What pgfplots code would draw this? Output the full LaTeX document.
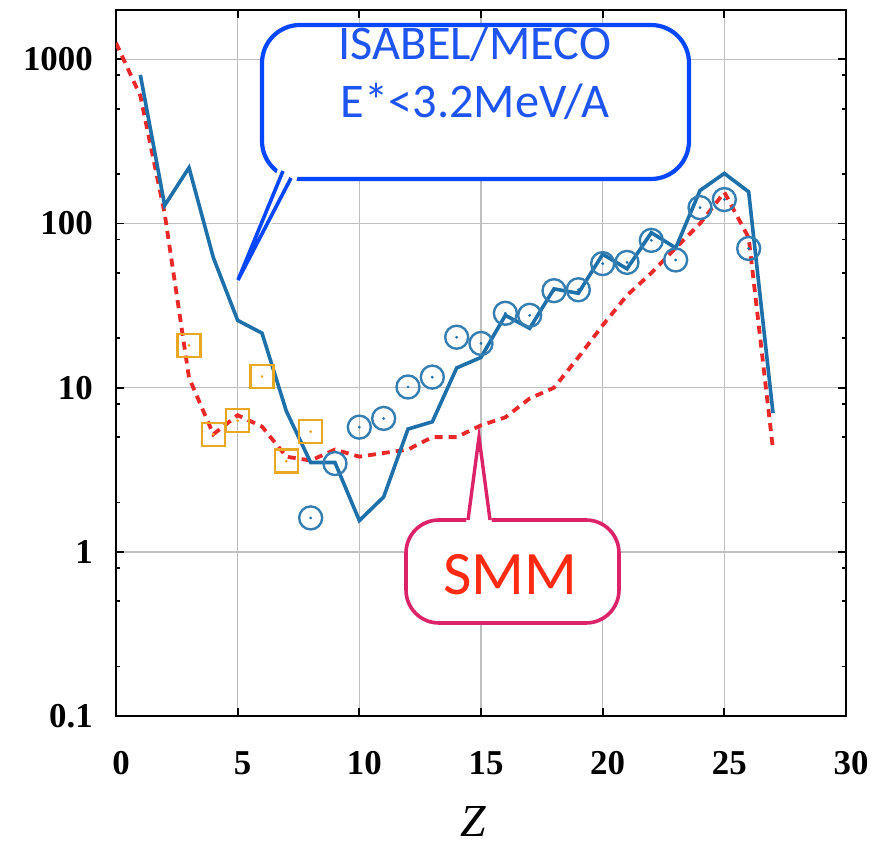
\documentclass[border=0pt]{standalone}
\usepackage{pgfplots}
\pgfplotsset{compat=1.18}
\usepackage{fontspec}
\setmainfont{Liberation Serif}
\newfontfamily\calib{Carlito}

\definecolor{isaline}{RGB}{30,112,170}
\definecolor{expcol}{RGB}{233,168,35}
\definecolor{smmline}{RGB}{235,40,40}
\definecolor{isabox}{RGB}{5,70,255}
\definecolor{isatext}{RGB}{30,85,240}
\definecolor{smmbox}{RGB}{220,35,105}
\definecolor{smmtext}{RGB}{255,42,18}

\begin{document}
\begin{tikzpicture}[x=1bp,y=1bp]
\begin{axis}[
  at={(116bp,132bp)}, anchor=south west,
  scale only axis, width=730bp, height=706bp,
  xmin=0, xmax=30, ymin=0.1, ymax=2000, ymode=log,
  xtick={0,5,10,15,20,25,30},
  xticklabels={0,5,10,15,20,25,30},
  ytick={0.1,1,10,100,1000},
  yticklabels={0.1,1,10,100,1000},
  minor ytick={0.2,0.5,0.8,2,5,8,20,50,80,200,500,800},
  minor xtick={},
  tick align=inside,
  major tick length=8bp, minor tick length=4bp,
  tick style={black, line width=1.8bp},
  axis line style={black, line width=2.2bp},
  grid=major,
  major grid style={black!25, line width=1.5bp},
  ticklabel style={font=\bfseries\fontsize{35}{35}\selectfont, inner sep=0pt},
  yticklabel style={anchor=east, xshift=-23bp},
  xticklabel style={anchor=north, yshift=-35bp, xshift=5bp},
  xlabel={\itshape Z},
  xlabel style={at={(axis description cs:0.489,0)}, anchor=base,
    inner sep=0pt, yshift=-120bp, font=\fontsize{46}{46}\selectfont},
]
% SMM calculation
\addplot[smmline, line width=3.8bp, dash pattern=on 8bp off 6bp] coordinates {
 (0,1260) (1,600) (2,115) (3,11.5) (4,5.2) (5,6.8) (6,5.8) (7,3.8)
 (8,3.6) (9,4.2) (10,3.8) (11,4.0) (12,4.2) (13,5.0) (14,5.0) (15,5.9)
 (16,6.6) (17,8.6) (18,10) (19,15.3) (20,24) (21,36.5) (22,50) (23,71)
 (24,100) (25,155) (26,82) (27,4.2)};
% ISABEL/MECO calculation
\addplot[isaline, line width=3.6bp] coordinates {
 (1,805) (2,129) (3,219) (4,62) (5,25.7) (6,21.5) (7,7.2) (8,3.5)
 (9,3.5) (10,1.55) (11,2.16) (12,5.6) (13,6.2) (14,13.2) (15,15.3)
 (16,27.6) (17,23) (18,40) (19,37.6) (20,65) (21,53) (22,88) (23,71)
 (24,159) (25,202) (26,156) (27,7.0)};
% measured yields, circles
\addplot[only marks, mark=o, mark size=11.5bp, isaline!90, mark options={line width=2.4bp}] coordinates {
 (8,1.61) (9,3.45) (10,5.75) (11,6.5) (12,10.1) (13,11.6) (14,20.3)
 (15,18.6) (16,28.4) (17,27.6) (18,39) (19,39.5) (20,57) (21,58)
 (22,79) (23,60) (24,125) (25,140) (26,70.5)};
\addplot[only marks, mark=*, mark size=1.2bp, isaline] coordinates {
 (8,1.61) (9,3.45) (10,5.75) (11,6.5) (12,10.1) (13,11.6) (14,20.3)
 (15,18.6) (16,28.4) (17,27.6) (18,39) (19,39.5) (20,57) (21,58)
 (22,79) (23,60) (24,125) (25,140) (26,70.5)};
% measured yields, squares
\addplot[only marks, mark=square, mark size=11.5bp, expcol, mark options={line width=2.4bp}] coordinates {
 (3,18.1) (4,5.2) (5,6.3) (6,11.7) (7,3.57) (8,5.4)};
\addplot[only marks, mark=*, mark size=1.2bp, expcol] coordinates {
 (3,18.1) (4,5.2) (5,6.3) (6,11.7) (7,3.57) (8,5.4)};
\end{axis}

% ISABEL/MECO callout
\draw[isabox, line width=4.2bp, fill=white, rounded corners=38bp]
  (262,669) rectangle (689,823);
\fill[white] (279,682) -- (238,568) -- (296,666) -- (300,680) -- cycle;
\draw[isabox, line width=3.6bp, line join=miter] (283,677) -- (238,568) -- (291,670);
\node[isatext, anchor=base, inner sep=0pt, font=\calib\fontsize{48.5}{48.5}\selectfont]
  at (475,788) {ISABEL/MECO};
\node[isatext, anchor=base, inner sep=0pt, font=\calib\fontsize{48.5}{48.5}\selectfont]
  at (475,730) {E*<3.2MeV/A};

% SMM callout
\draw[smmbox, line width=3.6bp, fill=white, rounded corners=33bp]
  (406,225) rectangle (619,328);
\fill[white] (466,325) -- (479,411) -- (492,325) -- cycle;
\draw[smmbox, line width=3.4bp, line join=miter] (468,328) -- (479,411) -- (490,328);
\node[smmtext, anchor=base, inner sep=0pt, font=\calib\fontsize{62}{62}\selectfont]
  at (510,253) {SMM};

\pgfresetboundingbox
\path[use as bounding box] (0,0) rectangle (890,848);
\end{tikzpicture}
\end{document}
